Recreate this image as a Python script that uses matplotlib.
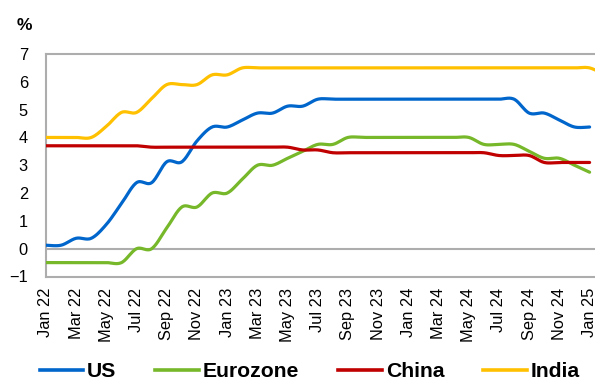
import numpy as np
import matplotlib
matplotlib.use("Agg")
import matplotlib.pyplot as plt
from matplotlib.lines import Line2D

# ---- data (monthly, Jan 22 .. Jan 25; India also Feb 25) ----
us = [0.125, 0.125, 0.375, 0.375, 0.875, 1.625, 2.375, 2.375, 3.125, 3.125, 3.875, 4.375,
      4.375, 4.625, 4.875, 4.875, 5.125, 5.125, 5.375, 5.375, 5.375, 5.375, 5.375, 5.375,
      5.375, 5.375, 5.375, 5.375, 5.375, 5.375, 5.375, 5.375, 4.875, 4.875, 4.625, 4.375,
      4.375]
eurozone = [-0.5, -0.5, -0.5, -0.5, -0.5, -0.5, 0.0, 0.0, 0.75, 1.5, 1.5, 2.0,
            2.0, 2.5, 3.0, 3.0, 3.25, 3.5, 3.75, 3.75, 4.0, 4.0, 4.0, 4.0,
            4.0, 4.0, 4.0, 4.0, 4.0, 3.75, 3.75, 3.75, 3.5, 3.25, 3.25, 3.0,
            2.75]
china = [3.70, 3.70, 3.70, 3.70, 3.70, 3.70, 3.70, 3.65, 3.65, 3.65, 3.65, 3.65,
         3.65, 3.65, 3.65, 3.65, 3.65, 3.55, 3.55, 3.45, 3.45, 3.45, 3.45, 3.45,
         3.45, 3.45, 3.45, 3.45, 3.45, 3.45, 3.35, 3.35, 3.35, 3.10, 3.10, 3.10,
         3.10]
india = [4.0, 4.0, 4.0, 4.0, 4.4, 4.9, 4.9, 5.4, 5.9, 5.9, 5.9, 6.25,
         6.25, 6.5, 6.5, 6.5, 6.5, 6.5, 6.5, 6.5, 6.5, 6.5, 6.5, 6.5,
         6.5, 6.5, 6.5, 6.5, 6.5, 6.5, 6.5, 6.5, 6.5, 6.5, 6.5, 6.5,
         6.5, 6.25]
tick_labels = ["Jan 22", "Mar 22", "May 22", "Jul 22", "Sep 22", "Nov 22", "Jan 23",
               "Mar 23", "May 23", "Jul 23", "Sep 23", "Nov 23", "Jan 24", "Mar 24",
               "May 24", "Jul 24", "Sep 24", "Nov 24", "Jan 25"]
series_names = ["US", "Eurozone", "China", "India"]
colors = ["#0066CC", "#76B82A", "#C00000", "#FFC000"]

plt.rcParams["font.family"] = ["Liberation Sans", "DejaVu Sans"]


def smooth(y, n=16):
    """Excel-style smoothed line (Catmull-Rom Bezier) through monthly points."""
    y = np.asarray(y, float)
    x = np.arange(len(y), dtype=float)
    pts = np.column_stack([x, y])
    P = np.vstack([pts[0], pts, pts[-1]])
    out = []
    t = np.linspace(0, 1, n, endpoint=False)[:, None]
    for i in range(1, len(P) - 2):
        p0, p1, p2, p3 = P[i - 1], P[i], P[i + 1], P[i + 2]
        c1 = p1 + (p2 - p0) / 6.0
        c2 = p2 - (p3 - p1) / 6.0
        seg = ((1 - t) ** 3) * p1 + 3 * ((1 - t) ** 2) * t * c1 + 3 * (1 - t) * t ** 2 * c2 + t ** 3 * p2
        out.append(seg)
    out.append(pts[-1][None, :])
    out = np.vstack(out)
    return out[:, 0], out[:, 1]


fig = plt.figure(figsize=(5.95, 3.80), dpi=100)
ax = fig.add_axes([46 / 595, (380 - 276.5) / 380, 1 - 46 / 595, (276.5 - 54) / 380])

grey = "#ADADAD"
for s in ["left", "top", "bottom"]:
    ax.spines[s].set_color(grey)
    ax.spines[s].set_linewidth(1.5)
ax.spines["right"].set_visible(False)
ax.axhline(0, color=grey, lw=1.5, zorder=1)

for data, col in zip([us, eurozone, china, india], colors):
    xs, ys = smooth(data)
    ax.plot(xs, ys, color=col, lw=2.3, solid_capstyle="round", zorder=3)

ax.set_xlim(0, 549 / 15.1)
ax.set_ylim(-1, 7)
ax.set_yticks(range(-1, 8))
ax.set_xticks(np.arange(0, 37, 2))
ax.set_xticklabels(tick_labels, rotation=90)
ax.tick_params(axis="both", length=0, labelsize=11.8, colors="black")
ax.tick_params(axis="y", pad=13)
ax.tick_params(axis="x", pad=8)

fig.text(24 / 595, 1 - 25 / 380, "%", ha="center", va="center", fontsize=12.5, fontweight="bold")

handles = [Line2D([], [], color=c, lw=2.6) for c in colors]
leg = fig.legend(handles, series_names, loc="center left", bbox_to_anchor=(39.5 / 595, 8.5 / 380),
                 ncol=4, frameon=False, handlelength=2.08, handletextpad=0.17,
                 columnspacing=1.85, borderpad=0, borderaxespad=0,
                 prop={"weight": "bold", "size": 15.2})

fig.savefig("out.png", dpi=100)
